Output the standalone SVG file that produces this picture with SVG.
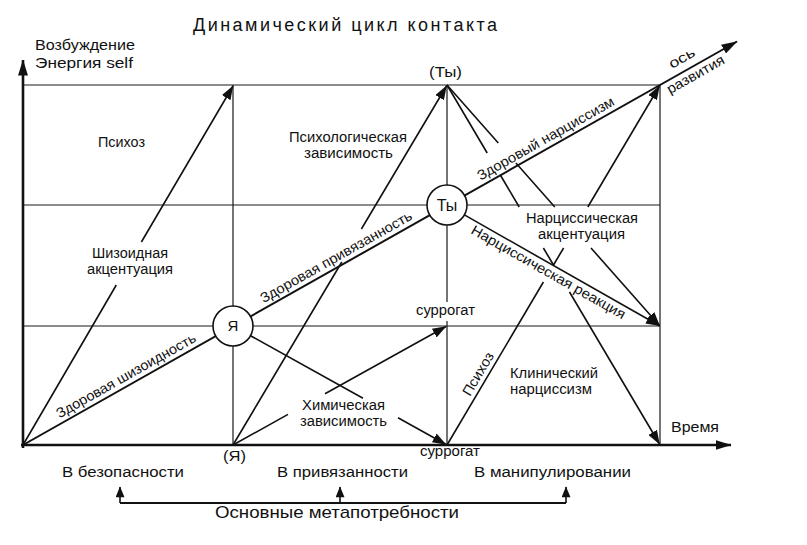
<svg xmlns="http://www.w3.org/2000/svg" width="807" height="545" viewBox="0 0 807 545">
<defs>
<style>
.grid{stroke:#1a1a1a;stroke-width:1.2;fill:none}
.axis{stroke:#111;stroke-width:2.6;fill:none}
.dev{stroke:#111;stroke-width:2;fill:none}
.arr{stroke:#111;stroke-width:1.6;fill:none}
.t{font-family:"Liberation Sans",Arial,sans-serif;font-size:14px;fill:#111}
.c{text-anchor:middle}
.node circle{fill:#fff;stroke:#111;stroke-width:1.6}
</style>
<marker id="ah" viewBox="0 0 14 10" refX="13.5" refY="5" markerWidth="14" markerHeight="10" markerUnits="userSpaceOnUse" orient="auto"><path d="M0,0 L14,5 L0,10 z" fill="#111"/></marker>
<marker id="ahb" viewBox="0 0 16 10" refX="15.5" refY="5" markerWidth="16" markerHeight="10" markerUnits="userSpaceOnUse" orient="auto"><path d="M0,0 L16,5 L0,10 z" fill="#111"/></marker>
<marker id="ahs" viewBox="0 0 12 10" refX="11.5" refY="5" markerWidth="12" markerHeight="9" markerUnits="userSpaceOnUse" orient="auto"><path d="M0,0 L12,5 L0,10 z" fill="#111"/></marker>
</defs>
<rect width="807" height="545" fill="#fff"/>

<g id="grid">
<path class="grid" d="M23,85 H660 M23,205 H660 M23,326 H660 M233,85 V445 M447,85 V302 M447,321 V445 M660,85 V445"/>
</g>

<g id="axes">
<path class="axis" d="M23,448 L23,60" marker-end="url(#ahb)"/>
<path class="axis" d="M21,445 L731,445" marker-end="url(#ahb)"/>
<path class="dev" d="M23,445 L737,41.5" marker-end="url(#ahb)"/>
</g>

<g id="connectors">
<path class="arr" d="M23,445 L116.3,285 M141.4,242 L233,86" marker-end="url(#ah)"/>
<path class="arr" d="M233,445 L341.8,262 M361.4,229 L446.5,86" marker-end="url(#ah)"/>
<path class="arr" d="M233,445 L288,414.4 M325,393.8 L446,326.5" marker-end="url(#ah)"/>
<path class="arr" d="M250.5,335.7 L363,398.3 M398,417.8 L446,444.5" marker-end="url(#ah)"/>
<path class="arr" d="M447,445 L543.4,282 M553.5,265 L563.6,248 M587.8,207 L659.5,86" marker-end="url(#ah)"/>
<path class="arr" d="M447,85 L487.2,153 M500.3,175 L519.2,207 M543.4,248 L553.5,265 M569.5,292 L659.5,444" marker-end="url(#ah)"/>
<path class="arr" d="M447,85 L498.3,143 M515.9,163 L554.8,207 M591,248 L659.5,325.5" marker-end="url(#ah)"/>
<path class="arr" d="M464.4,214.9 L659.5,325.8" marker-end="url(#ah)"/>
<path class="arr" d="M120,503 H566" style="stroke-width:2"/>
<path class="arr" d="M120,503 V487" marker-end="url(#ahs)"/>
<path class="arr" d="M340,503 V487" marker-end="url(#ahs)"/>
<path class="arr" d="M566,503 V487" marker-end="url(#ahs)"/>
</g>

<g id="node-ya" class="node">
<circle cx="233" cy="326" r="20"/>
<text class="t c" x="233" y="331" style="font-size:15px">Я</text>
</g>
<g id="node-ty" class="node">
<circle cx="447" cy="205" r="20"/>
<text class="t c" x="447" y="211" style="font-size:16px">Ты</text>
</g>

<g id="labels">
<text class="t" x="193" y="31" style="font-size:18px" textLength="304" lengthAdjust="spacing">Динамический цикл контакта</text>
<text class="t" x="35" y="50" textLength="100" lengthAdjust="spacingAndGlyphs">Возбуждение</text>
<text class="t" x="35" y="68" textLength="98" lengthAdjust="spacingAndGlyphs">Энергия  self</text>
<text class="t" x="98" y="147" textLength="47" lengthAdjust="spacingAndGlyphs">Психоз</text>
<text class="t" x="289" y="142" textLength="118" lengthAdjust="spacingAndGlyphs">Психологическая</text>
<text class="t" x="304" y="158" textLength="89" lengthAdjust="spacingAndGlyphs">зависимость</text>
<text class="t" x="429" y="77" textLength="33" lengthAdjust="spacingAndGlyphs">(Ты)</text>
<text class="t" x="92" y="258" textLength="76" lengthAdjust="spacingAndGlyphs">Шизоидная</text>
<text class="t" x="87" y="274" textLength="86" lengthAdjust="spacingAndGlyphs">акцентуация</text>
<text class="t" x="526" y="223" textLength="112" lengthAdjust="spacingAndGlyphs">Нарциссическая</text>
<text class="t" x="538" y="239" textLength="87" lengthAdjust="spacingAndGlyphs">акцентуация</text>
<text class="t" x="416" y="315" textLength="59" lengthAdjust="spacingAndGlyphs">суррогат</text>
<text class="t" x="302" y="410" textLength="83" lengthAdjust="spacingAndGlyphs">Химическая</text>
<text class="t" x="300" y="426" textLength="87" lengthAdjust="spacingAndGlyphs">зависимость</text>
<text class="t" x="510" y="378" textLength="88" lengthAdjust="spacingAndGlyphs">Клинический</text>
<text class="t" x="510" y="394" textLength="82" lengthAdjust="spacingAndGlyphs">нарциссизм</text>
<text class="t" x="671" y="432" textLength="48" lengthAdjust="spacingAndGlyphs">Время</text>
<text class="t" x="223" y="461" textLength="23" lengthAdjust="spacingAndGlyphs">(Я)</text>
<text class="t" x="420" y="456" textLength="60" lengthAdjust="spacingAndGlyphs">суррогат</text>
<text class="t" x="62" y="477" textLength="122" lengthAdjust="spacingAndGlyphs">В безопасности</text>
<text class="t" x="277" y="477" textLength="131" lengthAdjust="spacingAndGlyphs">В привязанности</text>
<text class="t" x="474" y="477" textLength="157" lengthAdjust="spacingAndGlyphs">В манипулировании</text>
<text class="t" x="215" y="518" style="font-size:17px" textLength="244" lengthAdjust="spacingAndGlyphs">Основные метапотребности</text>

<text class="t" transform="translate(59.5,418.6) rotate(-29.47)" textLength="158" lengthAdjust="spacingAndGlyphs">Здоровая шизоидность</text>
<text class="t" transform="translate(263.5,303.3) rotate(-29.47)" textLength="172" lengthAdjust="spacingAndGlyphs">Здоровая привязанность</text>
<text class="t" transform="translate(480.5,180.7) rotate(-29.47)" textLength="155" lengthAdjust="spacingAndGlyphs">Здоровый нарциссизм</text>
<text class="t" transform="translate(672,69) rotate(-29.47)" textLength="28" lengthAdjust="spacingAndGlyphs">ось</text>
<text class="t" transform="translate(670,94.3) rotate(-29.47)" textLength="64" lengthAdjust="spacingAndGlyphs">развития</text>
<text class="t" transform="translate(470,233) rotate(29.6)" textLength="175" lengthAdjust="spacingAndGlyphs">Нарциссическая реакция</text>
<text class="t" transform="translate(470,397) rotate(-59.4)" textLength="48" lengthAdjust="spacingAndGlyphs">Психоз</text>
</g>
</svg>
